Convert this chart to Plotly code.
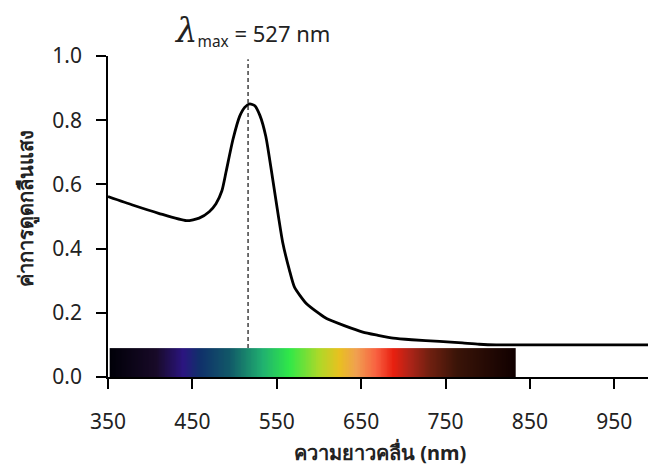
import numpy as np
import plotly.graph_objects as go

# ---- data ----
wavelength = [350, 380, 410, 443, 458, 470, 478, 485, 490, 498, 506, 512, 518,
              524, 530, 537, 545, 552, 557, 565, 571, 585, 600, 609, 630, 652,
              670, 688, 710, 743, 770, 790, 810, 850, 900, 950, 990]
absorbance = [0.562, 0.535, 0.510, 0.487, 0.495, 0.515, 0.540, 0.580, 0.640, 0.739, 0.812, 0.840, 0.851,
              0.845, 0.815, 0.750, 0.620, 0.500, 0.420, 0.333, 0.280, 0.229, 0.198, 0.182, 0.160, 0.140,
              0.130, 0.121, 0.116, 0.111, 0.106, 0.102, 0.100, 0.100, 0.100, 0.100, 0.100]

lambda_max_line = 516      # position of dashed marker as drawn
lambda_max_label = 527

# visible spectrum colour bar: wavelength stops and colours
spec_start, spec_end = 352, 833
spec_stop_nm = [352, 407, 439, 459, 494, 533, 565, 601, 624, 644, 668, 688, 707, 731, 763, 833]
spec_stop_col = ["#000008", "#180a28", "#2b1580", "#10306a", "#115868", "#20b070", "#30e848",
                 "#b0d828", "#e8c020", "#f0a050", "#f86040", "#e82010", "#b02418", "#702010",
                 "#3a1408", "#100000"]
bar_height = 0.09

x_ticks = [350, 450, 550, 650, 750, 850, 950]
y_ticks = [0.0, 0.2, 0.4, 0.6, 0.8, 1.0]

x_title = "ความยาวคลื่น (nm)"
y_title = "ค่าการดูดกลืนแสง"

# ---- figure ----
FONT = "Noto Sans, Open Sans, sans-serif"
fig = go.Figure()

colorscale = [[(w - spec_start) / (spec_end - spec_start), c] for w, c in zip(spec_stop_nm, spec_stop_col)]
edges = np.linspace(spec_start, spec_end, 482)
centers = (edges[:-1] + edges[1:]) / 2
fig.add_trace(go.Heatmap(
    x=edges, y=[0, bar_height], z=[centers],
    colorscale=colorscale, zmin=spec_start, zmax=spec_end,
    showscale=False, hoverinfo="skip"))

fig.add_trace(go.Scatter(
    x=[lambda_max_line, lambda_max_line], y=[bar_height, 0.99], mode="lines",
    line=dict(color="#333333", width=1.4, dash="4px,3px"), hoverinfo="skip", showlegend=False))

fig.add_trace(go.Scatter(
    x=wavelength, y=absorbance, mode="lines",
    line=dict(color="black", width=2.8, shape="spline", smoothing=0.6),
    showlegend=False))

axis_common = dict(showgrid=False, zeroline=False, showline=True, linecolor="black", linewidth=1.6,
                   ticks="outside", ticklen=10, tickwidth=1.6, tickcolor="black",
                   tickfont=dict(family=FONT, size=21, color="#222222"))

fig.update_xaxes(range=[350, 990], tickvals=x_ticks, ticklabelstandoff=15, **axis_common)
fig.update_yaxes(range=[0, 1.0], tickvals=y_ticks, tickformat=".1f", ticklabelstandoff=10, **axis_common)

fig.add_annotation(xref="paper", yref="paper", x=(380 - 108) / 540, y=-(452 - 377) / 321,
                   text=f"<b>{x_title}</b>", showarrow=False,
                   font=dict(family=FONT, size=20, color="#222222"), xanchor="center", yanchor="middle")
fig.add_annotation(xref="paper", yref="paper", x=-(108 - 26) / 540, y=(377 - 209) / 321,
                   text=f"<b>{y_title}</b>", showarrow=False, textangle=-90,
                   font=dict(family=FONT, size=20, color="#222222"), xanchor="center", yanchor="middle")
fig.add_annotation(xref="paper", yref="paper", x=(252 - 108) / 540, y=(377 - 31) / 321,
                   text=f"<i><span style='font-size:34px;font-family:DejaVu Serif'>λ</span></i><sub>max</sub> = {lambda_max_label} nm",
                   showarrow=False, font=dict(family=FONT, size=22, color="#222222"),
                   xanchor="center", yanchor="middle")

fig.update_layout(width=648, height=468, margin=dict(l=108, r=0, t=56, b=91),
                  plot_bgcolor="white", paper_bgcolor="white", showlegend=False)

fig.write_html("out.html", config={"displayModeBar": False},
               post_script="document.body.style.margin='0';")
